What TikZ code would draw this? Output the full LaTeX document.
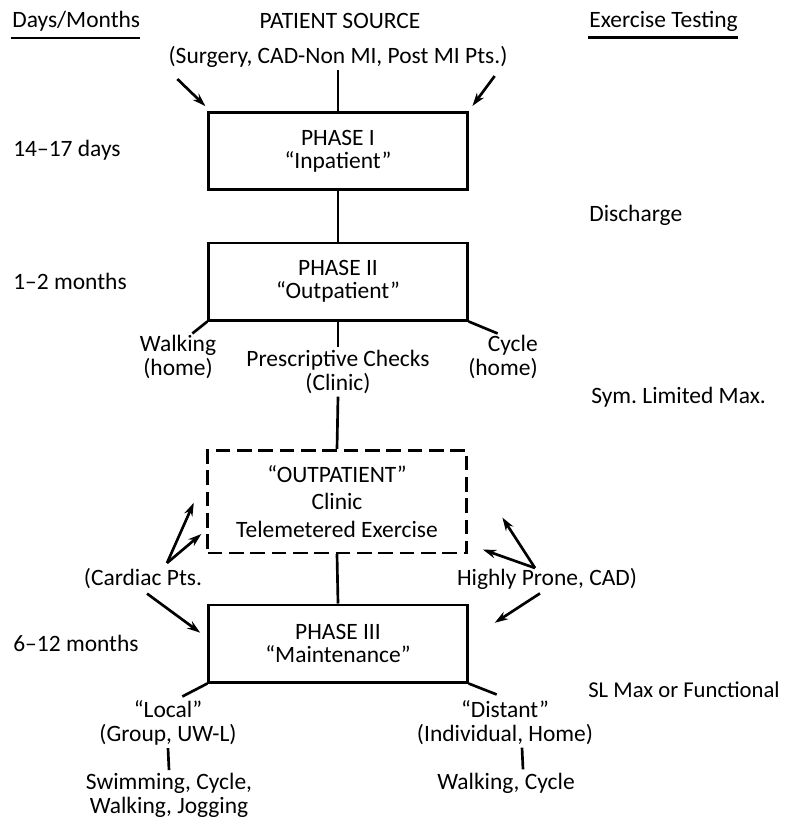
\documentclass[tikz,border=0pt]{standalone}
\usepackage{fontspec}
\setmainfont{Carlito}
\usetikzlibrary{arrows.meta,positioning}

\begin{document}
\begin{tikzpicture}[x=0.75pt,y=-0.75pt,>={Stealth[length=10pt,width=6.5pt]},shorten >=1pt,line width=2pt,
		every node/.style={font=\fontsize{17.6}{17.5}\selectfont},
		phase/.style={draw,minimum width=194pt,minimum height=58pt,align=center,inner sep=0pt},
		outbox/.style={phase,dash pattern=on 11pt off 5pt,minimum height=77pt},
		lbl/.style={anchor=base,align=center,inner sep=1.5pt},
		side/.style={anchor=base west,inner sep=0pt}]
	\useasboundingbox (0,0) rectangle (785,825);
	% headers
	\node[side] (days) at (11,27) {Days/Months};
	\node[lbl] (source) at (340,28) {PATIENT SOURCE};
	\node[side] (testing) at (588,27) {Exercise Testing};
	\draw[line width=1.7pt] ([shift={(0,6)}]days.south west) -- ([shift={(0,6)}]days.south east);
	\draw[line width=1.7pt] ([shift={(0,5)}]testing.south west) -- ([shift={(0,5)}]testing.south east);
	\node[lbl] (surgery) at (338,63) {(Surgery, CAD-Non MI, Post MI Pts.)};
	% phases
	\node[phase] (phase_1) at (338,151) {PHASE I\\``Inpatient''};
	\node[phase] (phase_2) at (338,281.5) {PHASE II\\``Outpatient''};
	\node[outbox] (outpt) at (337,501.5) {``OUTPATIENT''\\[3pt]Clinic\\[3pt]Telemetered Exercise};
	\node[phase] (phase_3) at (338,643.5) {PHASE III\\``Maintenance''};
	% time and testing columns
	\node[side] (days_1) at (12,156) {14--17 days};
	\node[side] (discharge) at (588,221) {Discharge};
	\node[side] (months_2) at (12,289) {1--2 months};
	\node[side] (symmax) at (590,403) {Sym.\ Limited Max.};
	\node[side] (months_12) at (12,651) {6--12 months};
	\node[side,font=\fontsize{17}{17.5}\selectfont] (slmax) at (587,697) {SL Max or Functional};
	% sub labels
	\node[lbl] (walking) at (178,375) {Walking\\(home)};
	\node[lbl] (checks) at (338,390) {Prescriptive Checks\\(Clinic)};
	\node[lbl,anchor=base east,align=right] (cycle) at (541,375) {Cycle\\(home)};
	\node[lbl] (cardiac) at (143,585) {(Cardiac Pts.};
	\node[lbl] (prone) at (547,585) {Highly Prone, CAD)};
	\node[lbl] (local) at (168,741) {``Local''\\(Group, UW-L)};
	\node[lbl] (swim) at (169,813) {Swimming, Cycle,\\Walking, Jogging};
	\node[lbl] (distant) at (505,741) {``Distant''\\(Individual, Home)};
	\node[lbl] (walkcyc) at (506,789) {Walking, Cycle};
	\coordinate (card_fork) at (167,563);
	\coordinate (prone_fork) at (535,568);
	% connectors
	\path[shorten >=0pt]
		(surgery) edge (phase_1)
		(phase_1) edge (phase_2)
		(phase_2.south) edge (checks.north)
		(checks.south) edge (outpt.north)
		(outpt.south) edge (phase_3.north)
		(phase_2.south west) edge ([shift={(-15,12)}]phase_2.south west)
		(phase_2.south east) edge ([shift={(29,12)}]phase_2.south east)
		(phase_3.south west) edge ([shift={(-25,13)}]phase_3.south west)
		(phase_3.south east) edge ([shift={(28,11)}]phase_3.south east)
		(local.south) edge (swim.north)
		([shift={(17,0)}]distant.south) edge ([shift={(17,0)}]walkcyc.north);
	\path[->]
		([shift={(-30,-32)}]phase_1.north west) edge ([shift={(-1,-4)}]phase_1.north west)
		([shift={(26,-35)}]phase_1.north east) edge ([shift={(3,-4)}]phase_1.north east)
		(card_fork) edge ([shift={(-12,0)}]outpt.west)
		(card_fork) edge ([shift={(-4,-21)}]outpt.south west)
		(prone_fork) edge ([shift={(34,15)}]outpt.east)
		(prone_fork) edge ([shift={(14,-5)}]outpt.south east)
		([shift={(4,2)}]cardiac.south) edge ([shift={(-6,-10)}]phase_3.west)
		([shift={(-7,1)}]prone.south) edge ([shift={(25,-20)}]phase_3.east);
\end{tikzpicture}
\end{document}
